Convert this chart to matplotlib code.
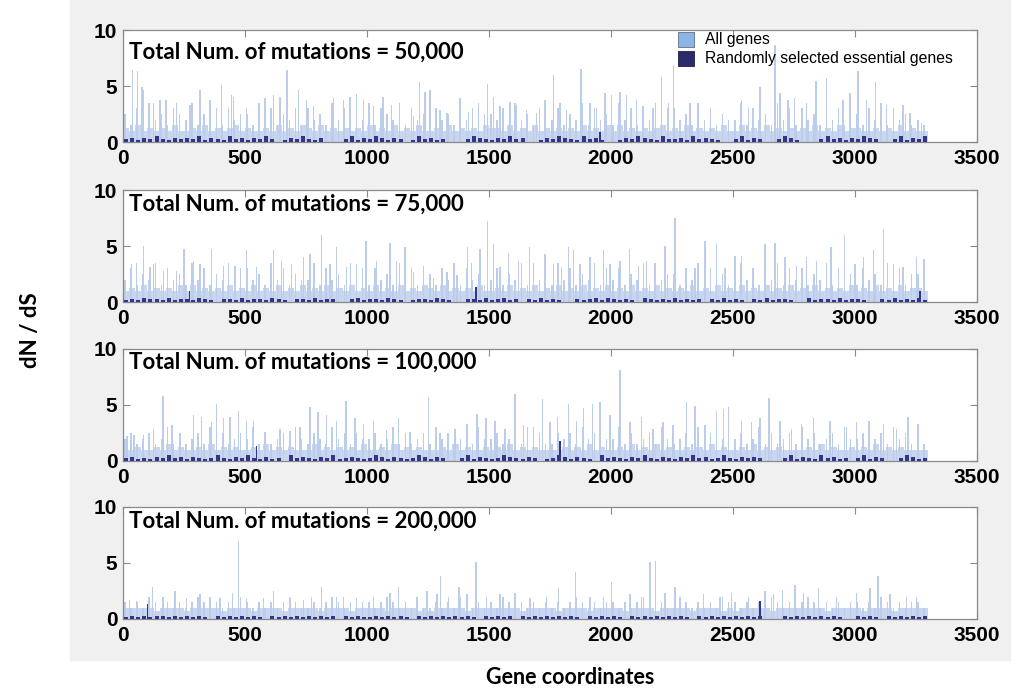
import numpy as np
import matplotlib
matplotlib.use("Agg")
import matplotlib.pyplot as plt
from matplotlib.patches import Patch, Rectangle

# ---- data ---------------------------------------------------------------
titles = ["Total Num. of mutations = 50,000",
          "Total Num. of mutations = 75,000",
          "Total Num. of mutations = 100,000",
          "Total Num. of mutations = 200,000"]

BIN = 25  # genes per bin

# dense background of all genes, one digit per 25-gene bin, in units of 0.25
band_p1 = "5464545464 4546454564 5445464546 5464545454 6454645464 4546454546 5546454645 4545464546 4645454564 5464545464 4645464545 4546454645 5445454645 44"
band_p2 = "4546454546 4645454645 4645464546 4546454645 4645464546 5464545464 4546454645 4645464546 4546454645 4546454645 4645464546 4546454546 4546454645 54"
band_p3 = "4454454645 4454645454 4546454544 4645454546 4454645454 4454645445 4546454544 4454546454 4546454645 4454546454 4546454544 4454645445 4546454544 44"
band_p4 = "4444434444 3444443444 4344443444 4434444344 4443444434 3444443444 4444434444 4344443444 4434444344 4443444434 3444443444 4444434444 4344443444 44"

# tallest gene in each 25-gene bin below the big peaks, units of 0.5
forest_p1 = "5364745365 4735463645 5374635463 6453746354 7365473645 3645374635 5463745364 4635473645 3746354736 6453746354 4736453746 3645374635 5364736453 43"
forest_p2 = "4635473645 3746354736 6453746354 4736453746 3645374635 5364736453 4635473645 3746354736 4635473645 5364736453 3746354736 4635473645 3645374635 54"
forest_p3 = "4534534635 3453645345 4635345364 3543645354 4534635345 3645345364 4534536453 3545364534 4635345364 3453645345 4534635345 3645345364 4534536453 43"
forest_p4 = "3232432323 2343232324 3232323432 2323432323 3234323232 2323243232 3243232323 2323432323 3232343232 2432323243 3232324323 2343232323 3232432323 32"

# essential genes, one digit per 25-gene bin, in units of 0.1 (0 = none)
ess_p1 = "3424353243 4352432534 2435302435 3240003524 3542430253 4230003543 2435340024 3543253420 0243543253 3425343200 3524300354 2000353424 3543003524 35"
ess_p2 = "2324332423 3243203324 2332432033 2423300342 3324320233 2432003324 2342303242 3200323424 3232043232 4232303242 3203242332 0042332423 3200324232 42"
ess_p3 = "3423243534 2432353243 5324230534 3243523432 3542432354 2430035243 2354324302 3542432053 4324353243 2435342353 2434300035 2432534230 3524300354 23"
ess_p4 = "2323233232 3232032323 2320323232 3232303232 2323232032 3232323203 2323032323 2323203232 3203232323 2320323232 3232300032 3232323200 3232032323 23"

# taller single genes (gene coordinate, dN/dS)
spk_pos_p1 = [40, 60, 77, 84, 124, 152, 176, 220, 275, 316, 357, 404, 445, 452, 507, 582, 616, 643, 673, 719, 753, 780,
              862, 903, 930, 958, 985, 1026, 1066, 1101, 1190, 1215, 1238, 1258, 1299, 1327, 1381, 1415, 1456, 1493,
              1518, 1545, 1586, 1613, 1654, 1695, 1730, 1764, 1791, 1818, 1877, 1914, 1941, 1975, 2003, 2037, 2064,
              2105, 2132, 2173, 2208, 2235, 2256, 2324, 2535, 2563, 2610, 2672, 2692, 2726, 2753, 2801, 2840, 2883,
              2951, 2979, 3013, 3047, 3084, 3129, 3197, 3225, 3272]
spk_val_p1 = [6.4, 6.3, 4.9, 4.6, 3.5, 3.75, 3.75, 3.45, 3.3, 4.6, 3.75, 5.1, 4.2, 4.0, 3.0, 3.9, 4.2, 4.0, 6.4, 4.6, 3.75, 3.2,
              3.9, 3.75, 4.0, 4.3, 3.75, 3.2, 4.0, 3.3, 2.3, 5.4, 4.5, 4.6, 2.9, 2.6, 3.9, 2.7, 3.45, 5.2,
              4.0, 3.2, 3.6, 3.3, 2.9, 2.6, 3.75, 6.0, 3.45, 2.9, 6.5, 3.45, 3.0, 4.35, 4.2, 4.5, 4.2,
              3.75, 3.2, 3.0, 5.8, 3.45, 6.9, 3.45, 3.75, 3.0, 4.9, 8.7, 4.35, 3.75, 3.9, 3.45, 5.45, 5.7,
              3.75, 4.35, 6.3, 3.75, 5.4, 3.3, 3.3, 2.6, 1.7]

spk_pos_p2 = [35, 56, 84, 111, 124, 165, 220, 250, 288, 316, 363, 411, 459, 507, 548, 616, 650, 691, 739, 766, 814, 848,
              876, 917, 958, 996, 1040, 1094, 1121, 1156, 1190, 1231, 1272, 1327, 1368, 1411, 1429, 1463, 1493, 1518,
              1545, 1579, 1620, 1665, 1682, 1730, 1764, 1798, 1825, 1846, 1873, 1914, 1969, 1996, 2037, 2075, 2112,
              2146, 2180, 2221, 2262, 2310, 2344, 2385, 2433, 2467, 2508, 2535, 2583, 2631, 2672, 2713, 2761, 2802,
              2843, 2902, 2956, 3000, 3034, 3075, 3116, 3157, 3197, 3252, 3282]
spk_val_p2 = [3.4, 3.5, 5.0, 3.1, 3.4, 2.8, 2.8, 4.7, 3.7, 3.4, 4.7, 3.25, 3.25, 4.6, 3.1, 4.6, 3.7, 3.4, 4.0, 4.3, 6.0, 3.4,
              4.9, 3.1, 3.4, 5.45, 3.7, 5.3, 3.7, 4.9, 2.7, 3.25, 2.1, 2.7, 2.4, 4.9, 3.5, 4.7, 7.2, 5.2,
              3.1, 4.4, 3.7, 4.9, 3.5, 4.3, 3.4, 3.1, 4.9, 4.6, 3.4, 4.0, 4.6, 3.4, 3.7, 4.7, 3.25,
              3.7, 3.5, 5.0, 7.5, 2.5, 3.0, 5.45, 5.2, 3.0, 4.1, 4.1, 3.0, 5.2, 5.3, 4.0, 3.25, 4.0,
              3.7, 4.9, 6.0, 3.4, 4.0, 4.6, 6.5, 3.4, 3.1, 4.0, 3.8]

spk_pos_p3 = [17, 45, 84, 124, 163, 200, 234, 288, 322, 363, 384, 411, 439, 473, 507, 534, 582, 643, 684, 725, 766, 800,
              834, 876, 914, 951, 985, 1026, 1080, 1128, 1176, 1251, 1299, 1360, 1409, 1450, 1488, 1525, 1566, 1606,
              1641, 1682, 1720, 1750, 1781, 1825, 1859, 1887, 1924, 1955, 1996, 2037, 2078, 2126, 2173, 2214, 2255,
              2310, 2344, 2385, 2433, 2460, 2481, 2535, 2576, 2610, 2648, 2692, 2740, 2781, 2829, 2897, 2965, 3006,
              3058, 3116, 3170, 3218, 3259]
spk_val_p3 = [2.2, 2.3, 2.3, 2.9, 5.8, 3.2, 2.5, 4.1, 3.9, 3.5, 5.1, 3.8, 3.9, 4.5, 3.6, 3.6, 2.6, 2.9, 2.7, 3.05, 4.8, 4.4,
              4.1, 3.6, 5.4, 3.8, 3.3, 3.6, 2.75, 3.8, 2.6, 5.7, 2.5, 2.9, 3.3, 4.2, 3.8, 3.6, 2.9, 6.0,
              3.2, 3.0, 5.5, 3.5, 3.9, 5.1, 3.6, 4.7, 5.1, 5.25, 4.1, 8.1, 3.5, 3.9, 2.9, 3.5, 3.2,
              5.25, 4.95, 3.2, 4.5, 4.65, 4.8, 3.6, 3.5, 3.8, 5.6, 3.6, 2.9, 3.3, 3.8, 3.6, 3.05, 3.5,
              3.6, 3.3, 2.9, 3.9, 3.3]

spk_pos_p4 = [27, 56, 120, 163, 213, 261, 316, 357, 398, 449, 473, 507, 575, 616, 684, 739, 773, 814, 876, 903, 958, 1026,
              1094, 1128, 1204, 1245, 1286, 1302, 1333, 1377, 1409, 1446, 1490, 1545, 1606, 1668, 1736, 1784, 1854,
              1914, 1969, 2003, 2078, 2126, 2160, 2183, 2221, 2262, 2378, 2446, 2494, 2563, 2631, 2665, 2703, 2754,
              2788, 2850, 2925, 3006, 3061, 3095, 3143, 3211, 3252]
spk_val_p4 = [1.7, 1.6, 2.9, 2.0, 2.5, 1.9, 2.2, 2.0, 1.9, 2.3, 7.0, 1.9, 1.9, 2.5, 1.9, 1.7, 2.0, 2.9, 2.0, 2.0, 1.9, 2.0,
              2.3, 2.9, 2.0, 2.5, 2.2, 3.8, 2.0, 2.9, 2.2, 5.1, 2.0, 2.2, 2.3, 1.9, 2.0, 2.75, 4.2,
              2.0, 2.0, 3.3, 2.2, 2.0, 5.1, 5.2, 2.3, 2.9, 2.2, 2.0, 2.3, 2.0, 2.5, 2.2, 2.6, 3.05,
              2.3, 2.75, 2.0, 2.3, 2.75, 3.8, 2.2, 2.0, 2.0]

# taller essential genes
ess_spk_pos = [[1955], [272, 1447, 3266], [547, 1791], [100, 2610]]
ess_spk_val = [[0.9], [1.0, 1.3, 1.0], [1.3, 1.8], [1.3, 1.6]]

xticks = [0, 500, 1000, 1500, 2000, 2500, 3000, 3500]
yticks = [0, 5, 10]

bands = [band_p1, band_p2, band_p3, band_p4]
forests = [forest_p1, forest_p2, forest_p3, forest_p4]
esss = [ess_p1, ess_p2, ess_p3, ess_p4]
spk_pos = [spk_pos_p1, spk_pos_p2, spk_pos_p3, spk_pos_p4]
spk_val = [spk_val_p1, spk_val_p2, spk_val_p3, spk_val_p4]


def digits(s, unit):
    return np.array([int(c) for c in s.replace(" ", "")]) * unit


# ---- figure -------------------------------------------------------------
W, H = 1017, 690
fig = plt.figure(figsize=(W / 100, H / 100), dpi=100)
bg = Rectangle((70 / W, 1 - 660 / H), 940 / W, 660 / H,
               transform=fig.transFigure, color="#f0f0f0", zorder=-10)
fig.add_artist(bg)

C_ALL = "#c9d6ef"
C_SPK = "#bccdec"
C_ESS = "#34348a"
C_FRAME = "#8a8a8a"

bottoms_px = [142, 302, 461, 619]
title_y = [0.80, 0.87, 0.885, 0.87]
axes = []
for i in range(4):
    ax = fig.add_axes([123 / W, 1 - bottoms_px[i] / H, 854 / W, 112 / H])
    ax.set_zorder(1)
    ax.set_facecolor("white")
    axes.append(ax)

    band = digits(bands[i], 0.25)
    xb = np.arange(len(band)) * BIN + BIN / 2
    ax.bar(xb, band, width=BIN, color=C_ALL, linewidth=0, zorder=2)
    forest = digits(forests[i], 0.5)
    ax.bar(xb - 5, forest, width=6, color=C_SPK, linewidth=0, zorder=2)
    ax.bar(spk_pos[i], spk_val[i], width=6, color=C_SPK, linewidth=0, zorder=2)

    ess = digits(esss[i], 0.1)
    ax.bar(xb, ess, width=16, color=C_ESS, linewidth=0, zorder=3)
    ax.bar(ess_spk_pos[i], ess_spk_val[i], width=6, color=C_ESS, linewidth=0, zorder=3)

    ax.set_xlim(0, 3500)
    ax.set_ylim(0, 10)
    ax.set_xticks(xticks)
    ax.set_yticks(yticks)
    ax.set_xticklabels([str(t) for t in xticks], fontfamily="Liberation Sans",
                       fontweight="bold", fontsize=15)
    ax.set_yticklabels([str(t) for t in yticks], fontfamily="Liberation Sans",
                       fontweight="bold", fontsize=15)
    ax.tick_params(direction="in", length=5, width=0.8, color=C_FRAME,
                   top=True, right=True, pad=4)
    ax.tick_params(axis="x", pad=5)
    for sp in ax.spines.values():
        sp.set_color(C_FRAME)
        sp.set_linewidth(0.9)
    ax.text(0.007, title_y[i], titles[i], transform=ax.transAxes, ha="left", va="center",
            fontfamily="Lato", fontweight="bold", fontsize=16, zorder=5)

handles = [Patch(facecolor="#8db4e2", edgecolor="#5a6f8c", linewidth=0.6, label="All genes"),
           Patch(facecolor="#2b2a6b", edgecolor="#1e1e44", linewidth=0.6,
                 label="Randomly selected essential genes")]
axes[0].legend(handles=handles, loc="upper left", bbox_to_anchor=(0.648, 1.0),
               frameon=False, borderaxespad=0, borderpad=0.1, handlelength=1.0,
               handleheight=1.1, labelspacing=0.2, handletextpad=0.7,
               prop={"family": "Liberation Sans", "size": 11.3})

fig.text(30 / W, 1 - 330 / H, "dN / dS", rotation=90, ha="center", va="center",
         fontfamily="Lato", fontweight="bold", fontsize=16)
fig.text(570 / W, 1 - 678 / H, "Gene coordinates", ha="center", va="center",
         fontfamily="Lato", fontweight="bold", fontsize=15.5)

fig.savefig("out.png", dpi=100, facecolor="white")
